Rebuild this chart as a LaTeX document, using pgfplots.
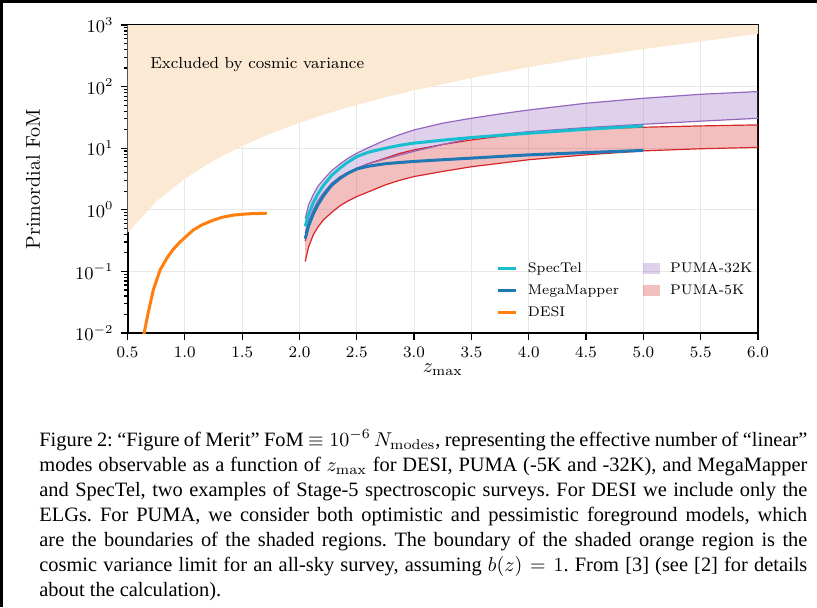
\documentclass[border=0pt]{standalone}
\usepackage{fontspec}
\usepackage{pgfplots}
\pgfplotsset{compat=1.18}
\newfontfamily\capfont{Liberation Serif}
\definecolor{tcyan}{HTML}{17BECF}
\definecolor{tblue}{HTML}{1F77B4}
\definecolor{torange}{HTML}{FF7F0E}
\definecolor{tpurple}{HTML}{9467BD}
\definecolor{tred}{HTML}{D62728}
\definecolor{cvfill}{RGB}{252,233,212}
\pgfplotsset{
  shortline/.style={legend image code/.code={\draw[##1] (0pt,0pt) -- (9pt,0pt);}},
  shortpatch/.style={legend image code/.code={\fill[##1] (0pt,-2.75pt) rectangle (8.5pt,2.75pt);}},
}
\begin{document}
\begin{tikzpicture}
\path[use as bounding box] (0,0) rectangle (408.5pt,303.5pt);
\fill[black] (0,302pt) rectangle (408.5pt,303.5pt);
\fill[black] (0,0) rectangle (1.5pt,303.5pt);
\begin{axis}[
  at={(63.75pt,137pt)}, anchor=south west,
  scale only axis, width=315.25pt, height=154pt,
  xmin=0.5, xmax=6, ymin=1e-2, ymax=1e3, ymode=log,
  xtick={0.5,1,1.5,2,2.5,3,3.5,4,4.5,5,5.5,6},
  ytick={1e-2,1e-1,1,1e1,1e2,1e3},
  x tick label style={font=\fontsize{8}{9}\selectfont, /pgf/number format/.cd, fixed, fixed zerofill, precision=1},
  y tick label style={font=\fontsize{9}{10}\selectfont},
  grid=major, major grid style={draw=black!9, line width=0.5pt},
  axis line style={line width=1pt},
  tick align=outside, tick pos=left,
  major tick length=3.5pt, minor tick length=2pt,
  every tick/.style={black, line width=0.6pt},
  xlabel={$z_{\mathrm{max}}$}, ylabel={Primordial FoM},
  xlabel style={at={(axis description cs:0.5,-0.127)}, anchor=base, font=\fontsize{10}{12}\selectfont},
  ylabel style={at={(axis description cs:-0.15,0.5)}, anchor=center, font=\fontsize{10}{12}\selectfont},
  legend columns=2,
  legend cell align=left,
  legend style={draw=none, fill=none, at={(rel axis cs:0.585,0.237)}, anchor=north west,
    font=\fontsize{7}{8}\selectfont, inner sep=0pt, row sep=2.5pt,
    nodes={inner sep=1pt, text height=5pt, text depth=1.5pt},
    /tikz/every odd column/.append style={column sep=4pt},
    /tikz/every even column/.append style={column sep=11pt}},
]
% cosmic variance excluded region
\addplot[fill=cvfill, draw=none, forget plot] coordinates {
(0.5,0.42) (0.75,1.37) (1.0,3.2) (1.25,6.3) (1.5,10.9) (1.75,17.3) (2.0,25.8)
(2.25,36.8) (2.5,50.5) (2.75,67) (3.0,87) (3.5,138) (4.0,207) (4.5,296)
(5.0,405) (5.5,540) (6.0,720) (6.0,2000) (0.5,2000)};
% PUMA-5K band
\addplot[fill=tred, fill opacity=0.3, draw=none, forget plot] coordinates {
(2.05,0.31) (2.08,0.55) (2.12,0.85) (2.16,1.25) (2.21,1.7) (2.28,2.6) (2.35,3.4)
(2.42,4.0) (2.5,4.7) (2.6,5.6) (2.75,6.9) (2.87,8.2) (3.0,9.4) (3.25,11.5)
(3.5,13.6) (3.75,15.6) (4.0,17.5) (4.5,20.3) (5.0,21.9) (5.5,23.0) (6.0,23.9)
(6.0,10.3) (5.5,9.8) (5.0,9.05) (4.5,7.8) (4.0,6.5) (3.75,5.7) (3.5,5.0)
(3.25,4.2) (3.0,3.47) (2.87,3.0) (2.75,2.54) (2.6,1.95) (2.5,1.64) (2.42,1.38)
(2.35,1.15) (2.28,0.9) (2.21,0.69) (2.16,0.52) (2.12,0.39) (2.08,0.25) (2.05,0.145)};
% PUMA-32K band
\addplot[fill=tpurple, fill opacity=0.3, draw=none, forget plot] coordinates {
(2.05,0.72) (2.08,1.2) (2.12,1.75) (2.16,2.4) (2.21,3.1) (2.28,4.3) (2.35,5.5)
(2.42,6.8) (2.5,8.3) (2.6,10.2) (2.75,13.6) (2.87,16.5) (3.0,19.8) (3.25,25.5)
(3.5,30.6) (3.75,36) (4.0,41.7) (4.5,53.7) (5.0,64.6) (5.5,75) (6.0,83)
(6.0,30.6) (5.5,27.5) (5.0,24.5) (4.5,21.6) (4.0,18.6) (3.75,16.6) (3.5,14.5)
(3.25,11.5) (3.0,8.9) (2.87,7.7) (2.75,6.7) (2.6,5.6) (2.5,4.7) (2.42,4.0)
(2.35,3.4) (2.28,2.7) (2.21,1.9) (2.16,1.4) (2.12,1.0) (2.08,0.65) (2.05,0.42)};
% band edges
\addplot[tred, line width=0.6pt, forget plot] coordinates {
(2.05,0.31) (2.08,0.55) (2.12,0.85) (2.16,1.25) (2.21,1.7) (2.28,2.6) (2.35,3.4)
(2.42,4.0) (2.5,4.7) (2.6,5.6) (2.75,6.9) (2.87,8.2) (3.0,9.4) (3.25,11.5)
(3.5,13.6) (3.75,15.6) (4.0,17.5) (4.5,20.3) (5.0,21.9) (5.5,23.0) (6.0,23.9)};
\addplot[tred, line width=0.6pt, forget plot] coordinates {
(2.05,0.145) (2.08,0.25) (2.12,0.39) (2.16,0.52) (2.21,0.69) (2.28,0.9) (2.35,1.15)
(2.42,1.38) (2.5,1.64) (2.6,1.95) (2.75,2.54) (2.87,3.0) (3.0,3.47) (3.25,4.2)
(3.5,5.0) (3.75,5.7) (4.0,6.5) (4.5,7.8) (5.0,9.05) (5.5,9.8) (6.0,10.3)};
\addplot[tpurple, line width=0.6pt, forget plot] coordinates {
(2.05,0.72) (2.08,1.2) (2.12,1.75) (2.16,2.4) (2.21,3.1) (2.28,4.3) (2.35,5.5)
(2.42,6.8) (2.5,8.3) (2.6,10.2) (2.75,13.6) (2.87,16.5) (3.0,19.8) (3.25,25.5)
(3.5,30.6) (3.75,36) (4.0,41.7) (4.5,53.7) (5.0,64.6) (5.5,75) (6.0,83)};
\addplot[tpurple, line width=0.6pt, forget plot] coordinates {
(2.05,0.42) (2.08,0.65) (2.12,1.0) (2.16,1.4) (2.21,1.9) (2.28,2.7) (2.35,3.4)
(2.42,4.0) (2.5,4.7) (2.6,5.6) (2.75,6.7) (2.87,7.7) (3.0,8.9) (3.25,11.5)
(3.5,14.5) (3.75,16.6) (4.0,18.6) (4.5,21.6) (5.0,24.5) (5.5,27.5) (6.0,30.6)};
% SpecTel
\addplot[tcyan, line width=1.5pt, forget plot] coordinates {
(2.05,0.54) (2.08,0.85) (2.12,1.3) (2.16,1.8) (2.21,2.5) (2.28,3.6) (2.35,4.7)
(2.42,5.9) (2.5,7.3) (2.6,8.6) (2.75,10.0) (2.87,11.1) (3.0,12.1) (3.25,13.5)
(3.5,14.9) (3.75,16.2) (4.0,17.5) (4.5,20.3) (5.0,23.0)};
% MegaMapper
\addplot[tblue, line width=1.5pt, forget plot] coordinates {
(2.05,0.34) (2.08,0.55) (2.12,0.85) (2.16,1.2) (2.21,1.7) (2.28,2.5) (2.35,3.2)
(2.42,3.9) (2.5,4.6) (2.6,5.1) (2.75,5.6) (2.87,5.85) (3.0,6.1) (3.25,6.5)
(3.5,6.9) (3.75,7.35) (4.0,7.8) (4.5,8.5) (5.0,9.2)};
% DESI
\addplot[torange, line width=1.5pt, forget plot] coordinates {
(0.64,0.009) (0.68,0.021) (0.725,0.050) (0.784,0.105) (0.842,0.163) (0.90,0.23)
(0.958,0.30) (1.074,0.47) (1.15,0.57) (1.249,0.68) (1.33,0.76) (1.423,0.82)
(1.55,0.86) (1.715,0.88)};
\node[anchor=base west, font=\fontsize{8}{9}\selectfont, inner sep=0] at (axis cs:0.696,200) {Excluded by cosmic variance};
% legend (row-wise for 2 columns)
\addlegendimage{tcyan, line width=1.5pt, shortline}
\addlegendentry{SpecTel}
\addlegendimage{fill=tpurple, fill opacity=0.3, draw=none, shortpatch}
\addlegendentry{PUMA-32K}
\addlegendimage{tblue, line width=1.5pt, shortline}
\addlegendentry{MegaMapper}
\addlegendimage{fill=tred, fill opacity=0.3, draw=none, shortpatch}
\addlegendentry{PUMA-5K}
\addlegendimage{torange, line width=1.5pt, shortline}
\addlegendentry{DESI}
\end{axis}
\node[anchor=base west, inner sep=0] at (19.5pt,80.5pt) {\parbox[t]{384pt}{\capfont\fontsize{10.2}{12.5}\selectfont\frenchspacing
Figure 2: “Figure of Merit” FoM $\equiv 10^{-6}\,N_{\mathrm{modes}}$, representing the effective number of “linear”\linebreak
modes observable as a function of $z_{\mathrm{max}}$ for DESI, PUMA (-5K and -32K), and MegaMapper\linebreak
and SpecTel, two examples of Stage-5 spectroscopic surveys. For DESI we include only the\linebreak
ELGs. For PUMA, we consider both optimistic and pessimistic foreground models, which\linebreak
are the boundaries of the shaded regions. The boundary of the shaded orange region is the\linebreak
cosmic variance limit for an all-sky survey, assuming $b(z)=1$. From [3] (see [2] for details\linebreak
about the calculation).}};
\end{tikzpicture}
\end{document}
